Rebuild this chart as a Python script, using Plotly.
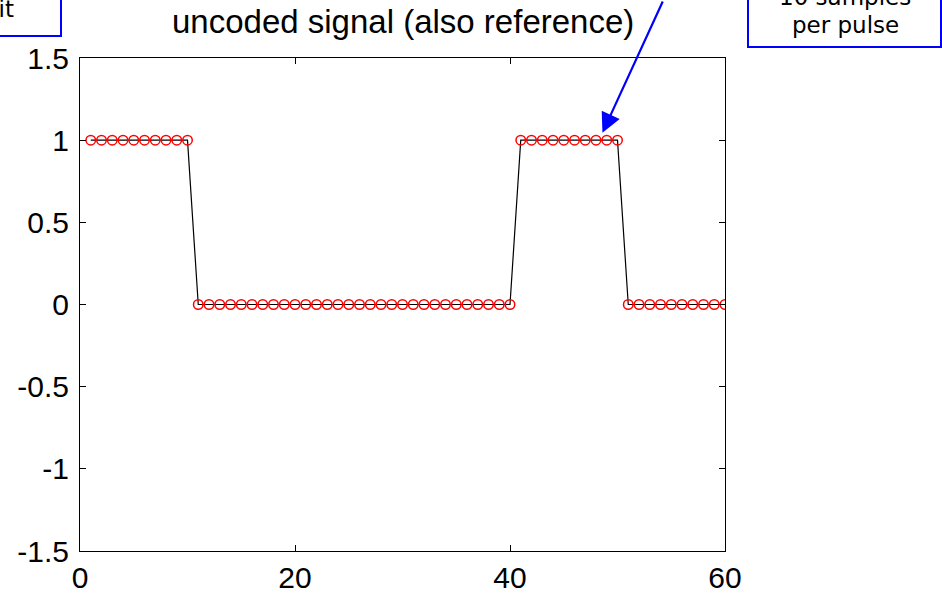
import plotly.graph_objects as go

# Sample indices and the uncoded (reference) pulse signal
sample_index = [1, 2, 3, 4, 5, 6, 7, 8, 9, 10,
                11, 12, 13, 14, 15, 16, 17, 18, 19, 20,
                21, 22, 23, 24, 25, 26, 27, 28, 29, 30,
                31, 32, 33, 34, 35, 36, 37, 38, 39, 40,
                41, 42, 43, 44, 45, 46, 47, 48, 49, 50,
                51, 52, 53, 54, 55, 56, 57, 58, 59, 60]
signal_values = [1, 1, 1, 1, 1, 1, 1, 1, 1, 1,
                 0, 0, 0, 0, 0, 0, 0, 0, 0, 0,
                 0, 0, 0, 0, 0, 0, 0, 0, 0, 0,
                 0, 0, 0, 0, 0, 0, 0, 0, 0, 0,
                 1, 1, 1, 1, 1, 1, 1, 1, 1, 1,
                 0, 0, 0, 0, 0, 0, 0, 0, 0, 0]

x_ticks = [0, 20, 40, 60]
x_tick_labels = ["0", "20", "40", "60"]
y_ticks = [-1.5, -1, -0.5, 0, 0.5, 1, 1.5]
y_tick_labels = ["-1.5", "-1", "-0.5", "0", "0.5", "1", "1.5"]

title_text = "uncoded signal (also reference)"
callout_lines = ["10 samples", "per pulse"]
left_note = "bit"
arrow_target = (48.6, 1.045)

W, H = 942, 599
ML, MR, MT, MB = 80, 217, 58, 48
PW, PH = W - ML - MR, H - MT - MB


def px(x):
    return (x - ML) / PW


def py(y):
    return (H - MB - y) / PH


fig = go.Figure()

fig.add_trace(go.Scatter(
    x=sample_index, y=signal_values, mode="lines",
    line=dict(color="black", width=1.2), hoverinfo="skip", showlegend=False,
))
fig.add_trace(go.Scatter(
    x=sample_index, y=signal_values, mode="markers",
    marker=dict(symbol="circle-open", size=9.5, color="red",
                line=dict(color="red", width=1.5)),
    showlegend=False,
))

tick_font = dict(family="Liberation Sans, Arial, sans-serif", size=30, color="black")
axis_common = dict(
    showline=True, linecolor="black", linewidth=1, mirror="ticks",
    ticks="inside", ticklen=6, tickcolor="black", tickwidth=1,
    showgrid=False, zeroline=False, tickfont=tick_font, automargin=False,
)
fig.update_xaxes(range=[0, 60], tickvals=x_ticks, ticktext=x_tick_labels,
                 ticklabelstandoff=0, **axis_common)
fig.update_yaxes(range=[-1.5, 1.5], tickvals=y_ticks, ticktext=y_tick_labels,
                 ticklabelstandoff=4, **axis_common)

note_font = dict(family="DejaVu Sans, Verdana, sans-serif", size=23, color="black")

shapes = [
    # callout box on the right
    dict(type="rect", xref="paper", yref="paper",
         x0=px(748), x1=px(941), y0=py(47), y1=py(-30),
         line=dict(color="blue", width=2), fillcolor="white"),
    # partially visible box on the left
    dict(type="rect", xref="paper", yref="paper",
         x0=px(-200), x1=px(61), y0=py(36), y1=py(-30),
         line=dict(color="blue", width=2), fillcolor="white"),
]

annotations = [
    dict(text=title_text, xref="paper", yref="paper", x=0.5, y=py(22),
         xanchor="center", yanchor="middle", showarrow=False,
         font=dict(family="Liberation Sans, Arial, sans-serif", size=33, color="black")),
    dict(text=callout_lines[0], xref="paper", yref="paper", x=px(845), y=py(-3),
         xanchor="center", yanchor="middle", showarrow=False, font=note_font),
    dict(text=callout_lines[1], xref="paper", yref="paper", x=px(845), y=py(25),
         xanchor="center", yanchor="middle", showarrow=False, font=note_font),
    dict(text=left_note, xref="paper", yref="paper", x=px(16), y=py(9),
         xanchor="right", yanchor="middle", showarrow=False, font=note_font),
    dict(text="", x=arrow_target[0], y=arrow_target[1], xref="x", yref="y",
         showarrow=True, arrowhead=2, arrowsize=1.8, arrowwidth=2.2,
         arrowcolor="blue", ax=61, ay=-140, standoff=0),
]

fig.update_layout(
    width=W, height=H, autosize=False,
    margin=dict(l=ML, r=MR, t=MT, b=MB, pad=0),
    paper_bgcolor="white", plot_bgcolor="white",
    shapes=shapes, annotations=annotations, showlegend=False,
)

fig.write_html("out.html")
